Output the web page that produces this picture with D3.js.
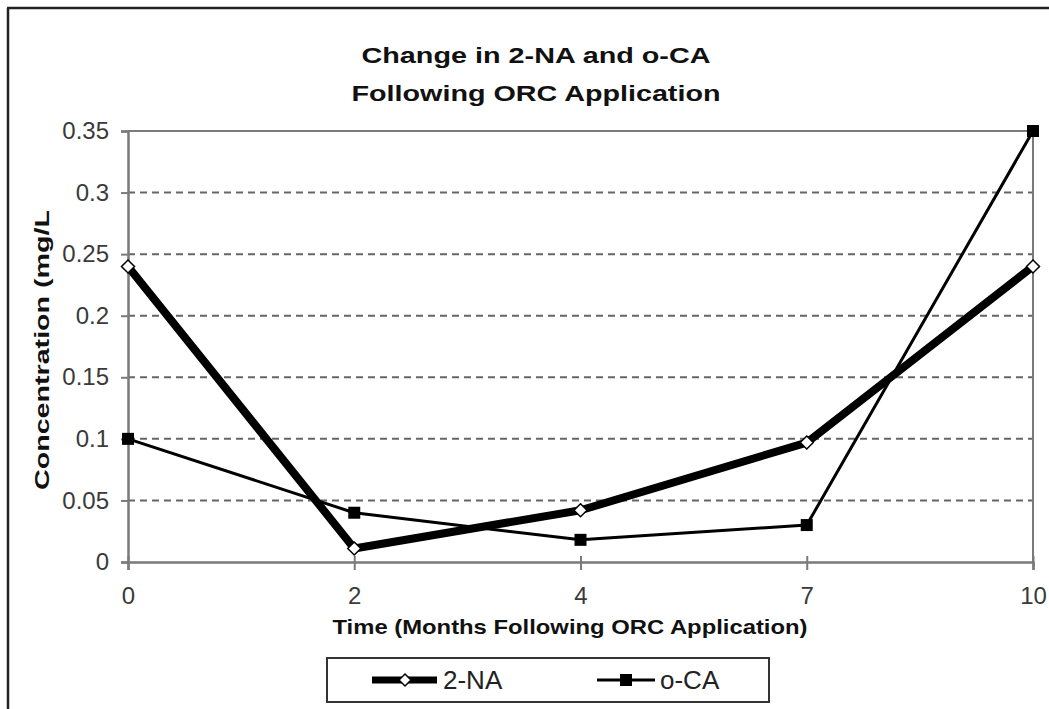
<!DOCTYPE html>
<html><head><meta charset="utf-8">
<script src="https://cdn.jsdelivr.net/npm/d3@7"></script>
<style>body{margin:0;background:#fff}svg{display:block}text{font-family:"Liberation Sans",Arial,sans-serif}</style>
</head><body>
<svg id="c" width="1049" height="709"></svg>
<script>
const categories = ["0","2","4","7","10"];
const series2NA = [0.24, 0.011, 0.042, 0.097, 0.24];
const seriesOCA = [0.10, 0.04, 0.018, 0.030, 0.35];
const yTicks = [0, 0.05, 0.1, 0.15, 0.2, 0.25, 0.3, 0.35];
const yTickLabels = ["0","0.05","0.1","0.15","0.2","0.25","0.3","0.35"];
const titleLines = ["Change in 2-NA and o-CA","Following ORC Application"];

const svg = d3.select("#c");
const L=128, R=1033, T=131, B=562;
const x = d3.scalePoint().domain(categories).range([L,R]);
const y = d3.scaleLinear().domain([0,0.35]).range([B,T]);
const gray="#7a7a7a";

// outer frame (left & top)
svg.append("line").attr("x1",8).attr("x2",8).attr("y1",8).attr("y2",709).attr("stroke","#222").attr("stroke-width",2.5);
svg.append("line").attr("x1",7).attr("x2",1049).attr("y1",8).attr("y2",8).attr("stroke","#222").attr("stroke-width",2.5);

// title
titleLines.forEach((t,i)=>{
  svg.append("text").attr("x",536).attr("y",63+i*38).attr("text-anchor","middle")
    .attr("font-size",22).attr("font-weight","bold").attr("fill","#111")
    .attr("textLength", i===0?349:369).attr("lengthAdjust","spacingAndGlyphs").text(t);
});

// gridlines
svg.append("g").selectAll("line").data(yTicks.filter(v=>v>0 && v<0.35)).join("line")
  .attr("x1",L).attr("x2",R).attr("y1",d=>y(d)).attr("y2",d=>y(d))
  .attr("stroke","#666").attr("stroke-width",2).attr("stroke-dasharray","7,5");

// plot border top/right
svg.append("line").attr("x1",L).attr("x2",R).attr("y1",T).attr("y2",T).attr("stroke",gray).attr("stroke-width",2);
svg.append("line").attr("x1",R).attr("x2",R).attr("y1",T).attr("y2",B).attr("stroke",gray).attr("stroke-width",2);

// y axis
const yAxis = d3.axisLeft(y).tickValues(yTicks).tickFormat((d,i)=>yTickLabels[i]).tickSize(7).tickPadding(12);
const gy = svg.append("g").attr("transform",`translate(${L},0)`).call(yAxis);
gy.select(".domain").attr("stroke",gray).attr("stroke-width",2.5);
gy.selectAll(".tick line").attr("stroke",gray).attr("stroke-width",2);
gy.selectAll(".tick text").attr("font-size",24).attr("fill","#3a3a3a").attr("font-family","Liberation Sans, Arial, sans-serif");

// x axis
const xAxis = d3.axisBottom(x).tickSize(8).tickPadding(17);
const gx = svg.append("g").attr("transform",`translate(0,${B})`).call(xAxis);
gx.select(".domain").attr("stroke",gray).attr("stroke-width",2.5);
gx.selectAll(".tick line").attr("stroke",gray).attr("stroke-width",2).attr("y1",-6);
gx.selectAll(".tick text").attr("font-size",24).attr("fill","#3a3a3a").attr("font-family","Liberation Sans, Arial, sans-serif");

// axis titles
svg.append("text").attr("x",570).attr("y",634).attr("text-anchor","middle").attr("font-size",21)
  .attr("font-weight","bold").attr("fill","#111").attr("textLength",475).attr("lengthAdjust","spacingAndGlyphs")
  .text("Time (Months Following ORC Application)");
svg.append("text").attr("transform","translate(49,350) rotate(-90)").attr("text-anchor","middle").attr("font-size",21)
  .attr("font-weight","bold").attr("fill","#111").attr("textLength",280).attr("lengthAdjust","spacingAndGlyphs")
  .text("Concentration (mg/L");

// lines
const line = d3.line().x((d,i)=>x(categories[i])).y(d=>y(d));
svg.append("path").datum(seriesOCA).attr("d",line).attr("fill","none").attr("stroke","#000").attr("stroke-width",3).attr("stroke-linejoin","round");
svg.append("path").datum(series2NA).attr("d",line).attr("fill","none").attr("stroke","#000").attr("stroke-width",8).attr("stroke-linejoin","round");

const diamond = s=>`M0,${-s}L${s},0L0,${s}L${-s},0Z`;
svg.append("g").selectAll("rect").data(seriesOCA).join("rect")
  .attr("x",(d,i)=>x(categories[i])-6).attr("y",d=>y(d)-6).attr("width",12).attr("height",12).attr("fill","#000");
svg.append("g").selectAll("path").data(series2NA).join("path")
  .attr("transform",(d,i)=>`translate(${x(categories[i])},${y(d)})`).attr("d",diamond(6.5))
  .attr("fill","#fff").attr("stroke","#000").attr("stroke-width",1.5);

// legend
const lg = svg.append("g");
lg.append("rect").attr("x",327).attr("y",658).attr("width",442).attr("height",44).attr("fill","#fff").attr("stroke","#333").attr("stroke-width",2);
lg.append("line").attr("x1",372).attr("x2",437).attr("y1",680).attr("y2",680).attr("stroke","#000").attr("stroke-width",7);
lg.append("path").attr("transform","translate(405,680)").attr("d",diamond(6)).attr("fill","#fff").attr("stroke","#000").attr("stroke-width",1.5);
lg.append("text").attr("x",443).attr("y",689).attr("font-size",26).attr("fill","#222").text("2-NA");
lg.append("line").attr("x1",597).attr("x2",655).attr("y1",680).attr("y2",680).attr("stroke","#000").attr("stroke-width",3);
lg.append("rect").attr("x",620).attr("y",674).attr("width",12).attr("height",12).attr("fill","#000");
lg.append("text").attr("x",660).attr("y",689).attr("font-size",26).attr("fill","#222").text("o-CA");
</script>
</body></html>
